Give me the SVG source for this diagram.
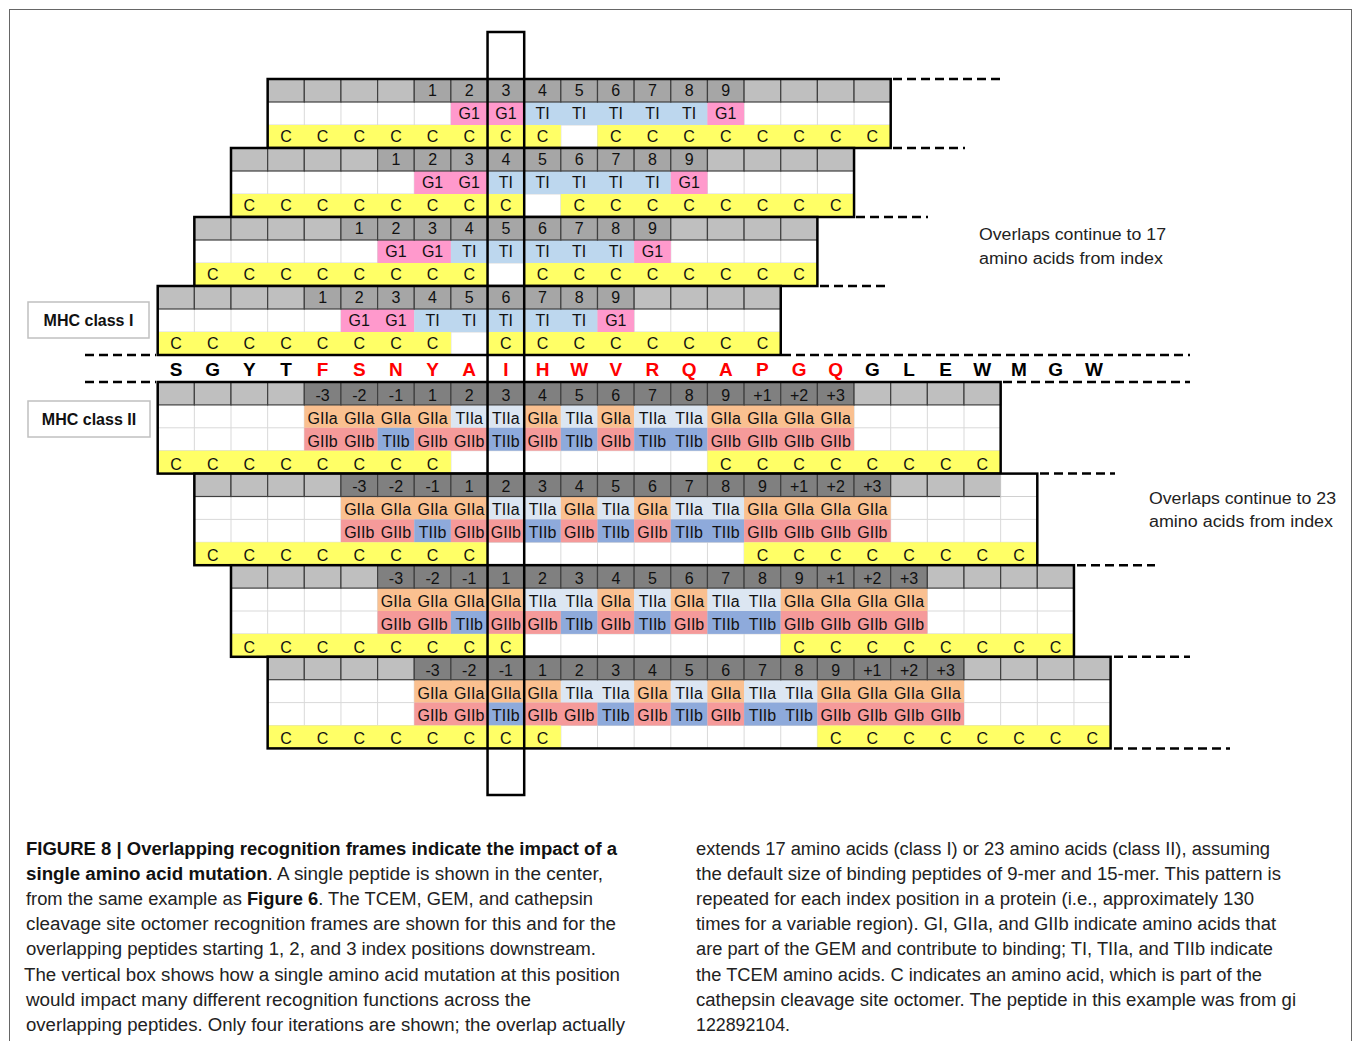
<svg xmlns="http://www.w3.org/2000/svg" width="1354" height="1041" viewBox="0 0 1354 1041">
<style>
.hl{fill:#bfbfbf;stroke:#404040;stroke-width:1.2}
.hd1{fill:#a6a6a6;stroke:#404040;stroke-width:1.2}
.hd2{fill:#808080;stroke:#404040;stroke-width:1.2}
.hw{fill:#fff;stroke:#d0d0d0;stroke-width:1}
.wb{fill:#fff}
.gl{stroke:#d9d9d9;stroke-width:1;fill:none}
.g1{fill:#ff99cc}.ti{fill:#bdd7ee}.y{fill:#ffff66}
.ga{fill:#fac090}.ta{fill:#dce6f2}.gb{fill:#f59a9a}.tb{fill:#8eaadb}
.bd{fill:none;stroke:#000;stroke-width:2.5}
.c text{font-family:"Liberation Sans",Arial,sans-serif;font-size:16px;text-anchor:middle;fill:#111}
.dash{stroke:#000;stroke-width:2.5;stroke-dasharray:9 5;fill:none}
.seq text{font-family:"Liberation Sans",Arial,sans-serif;font-size:19px;font-weight:bold;text-anchor:middle}
.r{fill:#ff0000}.k{fill:#000}
.lbl{fill:#fff;stroke:#c0c0c0;stroke-width:1.5}
.lbt{font-family:"Liberation Sans",Arial,sans-serif;font-size:16px;font-weight:bold;text-anchor:middle;fill:#111}
.note{font-family:"Liberation Sans",Arial,sans-serif;font-size:16px;fill:#222}
.cap{font-family:"Liberation Sans",Arial,sans-serif;font-size:18px;fill:#222}
.b{font-weight:bold;fill:#111}
</style>
<rect x="0" y="0" width="1354" height="1041" fill="#fff"/>
<rect x="9.5" y="9.5" width="1342" height="1040" fill="none" stroke="#666" stroke-width="1"/>

<!-- MHC class I frames -->
<g id="mhc1-frame1" class="c" transform="translate(267.65,79)">
<rect class="wb" x="0" y="23" width="623.05" height="46"/>
<path class="gl" d="M36.65 23V69M73.3 23V69M109.95 23V69M146.6 23V69M183.25 23V69M219.9 23V69M256.55 23V69M293.2 23V69M329.85 23V69M366.5 23V69M403.15 23V69M439.8 23V69M476.45 23V69M513.1 23V69M549.75 23V69M586.4 23V69M0 46H623.05"/>
<rect class="g1" x="183.25" y="23" width="73.3" height="23"/><rect class="ti" x="256.55" y="23" width="183.25" height="23"/><rect class="g1" x="439.8" y="23" width="36.65" height="23"/>
<rect class="y" x="0" y="46" width="293.2" height="23"/><rect class="y" x="329.85" y="46" width="293.2" height="23"/>
<rect class="hl" x="0" y="0" width="36.65" height="23"/><rect class="hl" x="36.65" y="0" width="36.65" height="23"/><rect class="hl" x="73.3" y="0" width="36.65" height="23"/><rect class="hl" x="109.95" y="0" width="36.65" height="23"/>
<rect class="hd1" x="146.6" y="0" width="36.65" height="23"/><rect class="hd1" x="183.25" y="0" width="36.65" height="23"/><rect class="hd1" x="219.9" y="0" width="36.65" height="23"/><rect class="hd1" x="256.55" y="0" width="36.65" height="23"/><rect class="hd1" x="293.2" y="0" width="36.65" height="23"/><rect class="hd1" x="329.85" y="0" width="36.65" height="23"/><rect class="hd1" x="366.5" y="0" width="36.65" height="23"/><rect class="hd1" x="403.15" y="0" width="36.65" height="23"/><rect class="hd1" x="439.8" y="0" width="36.65" height="23"/>
<rect class="hl" x="476.45" y="0" width="36.65" height="23"/><rect class="hl" x="513.1" y="0" width="36.65" height="23"/><rect class="hl" x="549.75" y="0" width="36.65" height="23"/><rect class="hl" x="586.4" y="0" width="36.65" height="23"/>
<text x="164.93" y="17">1</text><text x="201.58" y="17">2</text><text x="238.23" y="17">3</text><text x="274.88" y="17">4</text><text x="311.53" y="17">5</text><text x="348.18" y="17">6</text><text x="384.83" y="17">7</text><text x="421.48" y="17">8</text><text x="458.13" y="17">9</text>
<text x="201.58" y="40">G1</text><text x="238.23" y="40">G1</text><text x="274.88" y="40">TI</text><text x="311.53" y="40">TI</text><text x="348.18" y="40">TI</text><text x="384.83" y="40">TI</text><text x="421.48" y="40">TI</text><text x="458.13" y="40">G1</text>
<text x="18.33" y="63">C</text><text x="54.98" y="63">C</text><text x="91.63" y="63">C</text><text x="128.28" y="63">C</text><text x="164.93" y="63">C</text><text x="201.58" y="63">C</text><text x="238.23" y="63">C</text><text x="274.88" y="63">C</text><text x="348.18" y="63">C</text><text x="384.83" y="63">C</text><text x="421.48" y="63">C</text><text x="458.13" y="63">C</text><text x="494.78" y="63">C</text><text x="531.43" y="63">C</text><text x="568.08" y="63">C</text><text x="604.73" y="63">C</text>
<rect class="bd" x="0" y="0" width="623.05" height="69"/>
</g>

<g id="mhc1-frame2" class="c" transform="translate(231,148)">
<rect class="wb" x="0" y="23" width="623.05" height="46"/>
<path class="gl" d="M36.65 23V69M73.3 23V69M109.95 23V69M146.6 23V69M183.25 23V69M219.9 23V69M256.55 23V69M293.2 23V69M329.85 23V69M366.5 23V69M403.15 23V69M439.8 23V69M476.45 23V69M513.1 23V69M549.75 23V69M586.4 23V69M0 46H623.05"/>
<rect class="g1" x="183.25" y="23" width="73.3" height="23"/><rect class="ti" x="256.55" y="23" width="183.25" height="23"/><rect class="g1" x="439.8" y="23" width="36.65" height="23"/>
<rect class="y" x="0" y="46" width="293.2" height="23"/><rect class="y" x="329.85" y="46" width="293.2" height="23"/>
<rect class="hl" x="0" y="0" width="36.65" height="23"/><rect class="hl" x="36.65" y="0" width="36.65" height="23"/><rect class="hl" x="73.3" y="0" width="36.65" height="23"/><rect class="hl" x="109.95" y="0" width="36.65" height="23"/>
<rect class="hd1" x="146.6" y="0" width="36.65" height="23"/><rect class="hd1" x="183.25" y="0" width="36.65" height="23"/><rect class="hd1" x="219.9" y="0" width="36.65" height="23"/><rect class="hd1" x="256.55" y="0" width="36.65" height="23"/><rect class="hd1" x="293.2" y="0" width="36.65" height="23"/><rect class="hd1" x="329.85" y="0" width="36.65" height="23"/><rect class="hd1" x="366.5" y="0" width="36.65" height="23"/><rect class="hd1" x="403.15" y="0" width="36.65" height="23"/><rect class="hd1" x="439.8" y="0" width="36.65" height="23"/>
<rect class="hl" x="476.45" y="0" width="36.65" height="23"/><rect class="hl" x="513.1" y="0" width="36.65" height="23"/><rect class="hl" x="549.75" y="0" width="36.65" height="23"/><rect class="hl" x="586.4" y="0" width="36.65" height="23"/>
<text x="164.93" y="17">1</text><text x="201.58" y="17">2</text><text x="238.23" y="17">3</text><text x="274.88" y="17">4</text><text x="311.53" y="17">5</text><text x="348.18" y="17">6</text><text x="384.83" y="17">7</text><text x="421.48" y="17">8</text><text x="458.13" y="17">9</text>
<text x="201.58" y="40">G1</text><text x="238.23" y="40">G1</text><text x="274.88" y="40">TI</text><text x="311.53" y="40">TI</text><text x="348.18" y="40">TI</text><text x="384.83" y="40">TI</text><text x="421.48" y="40">TI</text><text x="458.13" y="40">G1</text>
<text x="18.33" y="63">C</text><text x="54.98" y="63">C</text><text x="91.63" y="63">C</text><text x="128.28" y="63">C</text><text x="164.93" y="63">C</text><text x="201.58" y="63">C</text><text x="238.23" y="63">C</text><text x="274.88" y="63">C</text><text x="348.18" y="63">C</text><text x="384.83" y="63">C</text><text x="421.48" y="63">C</text><text x="458.13" y="63">C</text><text x="494.78" y="63">C</text><text x="531.43" y="63">C</text><text x="568.08" y="63">C</text><text x="604.73" y="63">C</text>
<rect class="bd" x="0" y="0" width="623.05" height="69"/>
</g>

<g id="mhc1-frame3" class="c" transform="translate(194.35,217)">
<rect class="wb" x="0" y="23" width="623.05" height="46"/>
<path class="gl" d="M36.65 23V69M73.3 23V69M109.95 23V69M146.6 23V69M183.25 23V69M219.9 23V69M256.55 23V69M293.2 23V69M329.85 23V69M366.5 23V69M403.15 23V69M439.8 23V69M476.45 23V69M513.1 23V69M549.75 23V69M586.4 23V69M0 46H623.05"/>
<rect class="g1" x="183.25" y="23" width="73.3" height="23"/><rect class="ti" x="256.55" y="23" width="183.25" height="23"/><rect class="g1" x="439.8" y="23" width="36.65" height="23"/>
<rect class="y" x="0" y="46" width="293.2" height="23"/><rect class="y" x="329.85" y="46" width="293.2" height="23"/>
<rect class="hl" x="0" y="0" width="36.65" height="23"/><rect class="hl" x="36.65" y="0" width="36.65" height="23"/><rect class="hl" x="73.3" y="0" width="36.65" height="23"/><rect class="hl" x="109.95" y="0" width="36.65" height="23"/>
<rect class="hd1" x="146.6" y="0" width="36.65" height="23"/><rect class="hd1" x="183.25" y="0" width="36.65" height="23"/><rect class="hd1" x="219.9" y="0" width="36.65" height="23"/><rect class="hd1" x="256.55" y="0" width="36.65" height="23"/><rect class="hd1" x="293.2" y="0" width="36.65" height="23"/><rect class="hd1" x="329.85" y="0" width="36.65" height="23"/><rect class="hd1" x="366.5" y="0" width="36.65" height="23"/><rect class="hd1" x="403.15" y="0" width="36.65" height="23"/><rect class="hd1" x="439.8" y="0" width="36.65" height="23"/>
<rect class="hl" x="476.45" y="0" width="36.65" height="23"/><rect class="hl" x="513.1" y="0" width="36.65" height="23"/><rect class="hl" x="549.75" y="0" width="36.65" height="23"/><rect class="hl" x="586.4" y="0" width="36.65" height="23"/>
<text x="164.93" y="17">1</text><text x="201.58" y="17">2</text><text x="238.23" y="17">3</text><text x="274.88" y="17">4</text><text x="311.53" y="17">5</text><text x="348.18" y="17">6</text><text x="384.83" y="17">7</text><text x="421.48" y="17">8</text><text x="458.13" y="17">9</text>
<text x="201.58" y="40">G1</text><text x="238.23" y="40">G1</text><text x="274.88" y="40">TI</text><text x="311.53" y="40">TI</text><text x="348.18" y="40">TI</text><text x="384.83" y="40">TI</text><text x="421.48" y="40">TI</text><text x="458.13" y="40">G1</text>
<text x="18.33" y="63">C</text><text x="54.98" y="63">C</text><text x="91.63" y="63">C</text><text x="128.28" y="63">C</text><text x="164.93" y="63">C</text><text x="201.58" y="63">C</text><text x="238.23" y="63">C</text><text x="274.88" y="63">C</text><text x="348.18" y="63">C</text><text x="384.83" y="63">C</text><text x="421.48" y="63">C</text><text x="458.13" y="63">C</text><text x="494.78" y="63">C</text><text x="531.43" y="63">C</text><text x="568.08" y="63">C</text><text x="604.73" y="63">C</text>
<rect class="bd" x="0" y="0" width="623.05" height="69"/>
</g>

<g id="mhc1-frame4" class="c" transform="translate(157.7,286)">
<rect class="wb" x="0" y="23" width="623.05" height="46"/>
<path class="gl" d="M36.65 23V69M73.3 23V69M109.95 23V69M146.6 23V69M183.25 23V69M219.9 23V69M256.55 23V69M293.2 23V69M329.85 23V69M366.5 23V69M403.15 23V69M439.8 23V69M476.45 23V69M513.1 23V69M549.75 23V69M586.4 23V69M0 46H623.05"/>
<rect class="g1" x="183.25" y="23" width="73.3" height="23"/><rect class="ti" x="256.55" y="23" width="183.25" height="23"/><rect class="g1" x="439.8" y="23" width="36.65" height="23"/>
<rect class="y" x="0" y="46" width="293.2" height="23"/><rect class="y" x="329.85" y="46" width="293.2" height="23"/>
<rect class="hl" x="0" y="0" width="36.65" height="23"/><rect class="hl" x="36.65" y="0" width="36.65" height="23"/><rect class="hl" x="73.3" y="0" width="36.65" height="23"/><rect class="hl" x="109.95" y="0" width="36.65" height="23"/>
<rect class="hd1" x="146.6" y="0" width="36.65" height="23"/><rect class="hd1" x="183.25" y="0" width="36.65" height="23"/><rect class="hd1" x="219.9" y="0" width="36.65" height="23"/><rect class="hd1" x="256.55" y="0" width="36.65" height="23"/><rect class="hd1" x="293.2" y="0" width="36.65" height="23"/><rect class="hd1" x="329.85" y="0" width="36.65" height="23"/><rect class="hd1" x="366.5" y="0" width="36.65" height="23"/><rect class="hd1" x="403.15" y="0" width="36.65" height="23"/><rect class="hd1" x="439.8" y="0" width="36.65" height="23"/>
<rect class="hl" x="476.45" y="0" width="36.65" height="23"/><rect class="hl" x="513.1" y="0" width="36.65" height="23"/><rect class="hl" x="549.75" y="0" width="36.65" height="23"/><rect class="hl" x="586.4" y="0" width="36.65" height="23"/>
<text x="164.93" y="17">1</text><text x="201.58" y="17">2</text><text x="238.23" y="17">3</text><text x="274.88" y="17">4</text><text x="311.53" y="17">5</text><text x="348.18" y="17">6</text><text x="384.83" y="17">7</text><text x="421.48" y="17">8</text><text x="458.13" y="17">9</text>
<text x="201.58" y="40">G1</text><text x="238.23" y="40">G1</text><text x="274.88" y="40">TI</text><text x="311.53" y="40">TI</text><text x="348.18" y="40">TI</text><text x="384.83" y="40">TI</text><text x="421.48" y="40">TI</text><text x="458.13" y="40">G1</text>
<text x="18.33" y="63">C</text><text x="54.98" y="63">C</text><text x="91.63" y="63">C</text><text x="128.28" y="63">C</text><text x="164.93" y="63">C</text><text x="201.58" y="63">C</text><text x="238.23" y="63">C</text><text x="274.88" y="63">C</text><text x="348.18" y="63">C</text><text x="384.83" y="63">C</text><text x="421.48" y="63">C</text><text x="458.13" y="63">C</text><text x="494.78" y="63">C</text><text x="531.43" y="63">C</text><text x="568.08" y="63">C</text><text x="604.73" y="63">C</text>
<rect class="bd" x="0" y="0" width="623.05" height="69"/>
</g>

<!-- Sequence -->
<g id="sequence" class="seq">
<text class="k" x="176.03" y="376">S</text><text class="k" x="212.68" y="376">G</text><text class="k" x="249.33" y="376">Y</text><text class="k" x="285.98" y="376">T</text>
<text class="r" x="322.63" y="376">F</text><text class="r" x="359.28" y="376">S</text><text class="r" x="395.93" y="376">N</text><text class="r" x="432.58" y="376">Y</text><text class="r" x="469.23" y="376">A</text><text class="r" x="505.88" y="376">I</text><text class="r" x="542.53" y="376">H</text><text class="r" x="579.18" y="376">W</text><text class="r" x="615.83" y="376">V</text><text class="r" x="652.48" y="376">R</text><text class="r" x="689.13" y="376">Q</text><text class="r" x="725.78" y="376">A</text><text class="r" x="762.43" y="376">P</text><text class="r" x="799.08" y="376">G</text><text class="r" x="835.73" y="376">Q</text>
<text class="k" x="872.38" y="376">G</text><text class="k" x="909.03" y="376">L</text><text class="k" x="945.68" y="376">E</text><text class="k" x="982.33" y="376">W</text><text class="k" x="1018.98" y="376">M</text><text class="k" x="1055.63" y="376">G</text><text class="k" x="1094" y="376">W</text>
</g>

<!-- MHC class II frames -->
<g id="mhc2-frame1" class="c" transform="translate(157.7,382)">
<rect class="wb" x="0" y="22.9" width="842.95" height="68.7"/>
<path class="gl" d="M36.65 22.9V91.6M73.3 22.9V91.6M109.95 22.9V91.6M146.6 22.9V91.6M183.25 22.9V91.6M219.9 22.9V91.6M256.55 22.9V91.6M293.2 22.9V91.6M329.85 22.9V91.6M366.5 22.9V91.6M403.15 22.9V91.6M439.8 22.9V91.6M476.45 22.9V91.6M513.1 22.9V91.6M549.75 22.9V91.6M586.4 22.9V91.6M623.05 22.9V91.6M659.7 22.9V91.6M696.35 22.9V91.6M733 22.9V91.6M769.65 22.9V91.6M806.3 22.9V91.6M0 45.8H842.95M0 68.7H842.95"/>
<rect class="ga" x="146.6" y="22.9" width="146.6" height="22.9"/><rect class="ta" x="293.2" y="22.9" width="73.3" height="22.9"/><rect class="ga" x="366.5" y="22.9" width="36.65" height="22.9"/><rect class="ta" x="403.15" y="22.9" width="36.65" height="22.9"/><rect class="ga" x="439.8" y="22.9" width="36.65" height="22.9"/><rect class="ta" x="476.45" y="22.9" width="73.3" height="22.9"/><rect class="ga" x="549.75" y="22.9" width="146.6" height="22.9"/>
<rect class="gb" x="146.6" y="45.8" width="73.3" height="22.9"/><rect class="tb" x="219.9" y="45.8" width="36.65" height="22.9"/><rect class="gb" x="256.55" y="45.8" width="73.3" height="22.9"/><rect class="tb" x="329.85" y="45.8" width="36.65" height="22.9"/><rect class="gb" x="366.5" y="45.8" width="36.65" height="22.9"/><rect class="tb" x="403.15" y="45.8" width="36.65" height="22.9"/><rect class="gb" x="439.8" y="45.8" width="36.65" height="22.9"/><rect class="tb" x="476.45" y="45.8" width="73.3" height="22.9"/><rect class="gb" x="549.75" y="45.8" width="146.6" height="22.9"/>
<rect class="y" x="0" y="68.7" width="293.2" height="22.9"/><rect class="y" x="549.75" y="68.7" width="293.2" height="22.9"/>
<rect class="hl" x="0" y="0" width="36.65" height="22.9"/><rect class="hl" x="36.65" y="0" width="36.65" height="22.9"/><rect class="hl" x="73.3" y="0" width="36.65" height="22.9"/><rect class="hl" x="109.95" y="0" width="36.65" height="22.9"/>
<rect class="hd2" x="146.6" y="0" width="36.65" height="22.9"/><rect class="hd2" x="183.25" y="0" width="36.65" height="22.9"/><rect class="hd2" x="219.9" y="0" width="36.65" height="22.9"/><rect class="hd2" x="256.55" y="0" width="36.65" height="22.9"/><rect class="hd2" x="293.2" y="0" width="36.65" height="22.9"/><rect class="hd2" x="329.85" y="0" width="36.65" height="22.9"/><rect class="hd2" x="366.5" y="0" width="36.65" height="22.9"/><rect class="hd2" x="403.15" y="0" width="36.65" height="22.9"/><rect class="hd2" x="439.8" y="0" width="36.65" height="22.9"/><rect class="hd2" x="476.45" y="0" width="36.65" height="22.9"/><rect class="hd2" x="513.1" y="0" width="36.65" height="22.9"/><rect class="hd2" x="549.75" y="0" width="36.65" height="22.9"/><rect class="hd2" x="586.4" y="0" width="36.65" height="22.9"/><rect class="hd2" x="623.05" y="0" width="36.65" height="22.9"/><rect class="hd2" x="659.7" y="0" width="36.65" height="22.9"/>
<rect class="hl" x="696.35" y="0" width="36.65" height="22.9"/><rect class="hl" x="733" y="0" width="36.65" height="22.9"/><rect class="hl" x="769.65" y="0" width="36.65" height="22.9"/><rect class="hl" x="806.3" y="0" width="36.65" height="22.9"/>
<text x="164.93" y="18.8">-3</text><text x="201.58" y="18.8">-2</text><text x="238.23" y="18.8">-1</text><text x="274.88" y="18.8">1</text><text x="311.53" y="18.8">2</text><text x="348.18" y="18.8">3</text><text x="384.83" y="18.8">4</text><text x="421.48" y="18.8">5</text><text x="458.13" y="18.8">6</text><text x="494.78" y="18.8">7</text><text x="531.43" y="18.8">8</text><text x="568.08" y="18.8">9</text><text x="604.73" y="18.8">+1</text><text x="641.38" y="18.8">+2</text><text x="678.03" y="18.8">+3</text>
<text x="164.93" y="41.8">GIIa</text><text x="201.58" y="41.8">GIIa</text><text x="238.23" y="41.8">GIIa</text><text x="274.88" y="41.8">GIIa</text><text x="311.53" y="41.8">TIIa</text><text x="348.18" y="41.8">TIIa</text><text x="384.83" y="41.8">GIIa</text><text x="421.48" y="41.8">TIIa</text><text x="458.13" y="41.8">GIIa</text><text x="494.78" y="41.8">TIIa</text><text x="531.43" y="41.8">TIIa</text><text x="568.08" y="41.8">GIIa</text><text x="604.73" y="41.8">GIIa</text><text x="641.38" y="41.8">GIIa</text><text x="678.03" y="41.8">GIIa</text>
<text x="164.93" y="64.7">GIIb</text><text x="201.58" y="64.7">GIIb</text><text x="238.23" y="64.7">TIIb</text><text x="274.88" y="64.7">GIIb</text><text x="311.53" y="64.7">GIIb</text><text x="348.18" y="64.7">TIIb</text><text x="384.83" y="64.7">GIIb</text><text x="421.48" y="64.7">TIIb</text><text x="458.13" y="64.7">GIIb</text><text x="494.78" y="64.7">TIIb</text><text x="531.43" y="64.7">TIIb</text><text x="568.08" y="64.7">GIIb</text><text x="604.73" y="64.7">GIIb</text><text x="641.38" y="64.7">GIIb</text><text x="678.03" y="64.7">GIIb</text>
<text x="18.33" y="87.6">C</text><text x="54.98" y="87.6">C</text><text x="91.63" y="87.6">C</text><text x="128.28" y="87.6">C</text><text x="164.93" y="87.6">C</text><text x="201.58" y="87.6">C</text><text x="238.23" y="87.6">C</text><text x="274.88" y="87.6">C</text><text x="568.08" y="87.6">C</text><text x="604.73" y="87.6">C</text><text x="641.38" y="87.6">C</text><text x="678.03" y="87.6">C</text><text x="714.68" y="87.6">C</text><text x="751.33" y="87.6">C</text><text x="787.98" y="87.6">C</text><text x="824.63" y="87.6">C</text>
<rect class="bd" x="0" y="0" width="842.95" height="91.6"/>
</g>

<g id="mhc2-frame2" class="c" transform="translate(194.35,473.6)">
<rect class="wb" x="0" y="22.9" width="842.95" height="68.7"/>
<path class="gl" d="M36.65 22.9V91.6M73.3 22.9V91.6M109.95 22.9V91.6M146.6 22.9V91.6M183.25 22.9V91.6M219.9 22.9V91.6M256.55 22.9V91.6M293.2 22.9V91.6M329.85 22.9V91.6M366.5 22.9V91.6M403.15 22.9V91.6M439.8 22.9V91.6M476.45 22.9V91.6M513.1 22.9V91.6M549.75 22.9V91.6M586.4 22.9V91.6M623.05 22.9V91.6M659.7 22.9V91.6M696.35 22.9V91.6M733 22.9V91.6M769.65 22.9V91.6M806.3 22.9V91.6M0 45.8H842.95M0 68.7H842.95"/>
<rect class="ga" x="146.6" y="22.9" width="146.6" height="22.9"/><rect class="ta" x="293.2" y="22.9" width="73.3" height="22.9"/><rect class="ga" x="366.5" y="22.9" width="36.65" height="22.9"/><rect class="ta" x="403.15" y="22.9" width="36.65" height="22.9"/><rect class="ga" x="439.8" y="22.9" width="36.65" height="22.9"/><rect class="ta" x="476.45" y="22.9" width="73.3" height="22.9"/><rect class="ga" x="549.75" y="22.9" width="146.6" height="22.9"/>
<rect class="gb" x="146.6" y="45.8" width="73.3" height="22.9"/><rect class="tb" x="219.9" y="45.8" width="36.65" height="22.9"/><rect class="gb" x="256.55" y="45.8" width="73.3" height="22.9"/><rect class="tb" x="329.85" y="45.8" width="36.65" height="22.9"/><rect class="gb" x="366.5" y="45.8" width="36.65" height="22.9"/><rect class="tb" x="403.15" y="45.8" width="36.65" height="22.9"/><rect class="gb" x="439.8" y="45.8" width="36.65" height="22.9"/><rect class="tb" x="476.45" y="45.8" width="73.3" height="22.9"/><rect class="gb" x="549.75" y="45.8" width="146.6" height="22.9"/>
<rect class="y" x="0" y="68.7" width="293.2" height="22.9"/><rect class="y" x="549.75" y="68.7" width="293.2" height="22.9"/>
<rect class="hl" x="0" y="0" width="36.65" height="22.9"/><rect class="hl" x="36.65" y="0" width="36.65" height="22.9"/><rect class="hl" x="73.3" y="0" width="36.65" height="22.9"/><rect class="hl" x="109.95" y="0" width="36.65" height="22.9"/>
<rect class="hd2" x="146.6" y="0" width="36.65" height="22.9"/><rect class="hd2" x="183.25" y="0" width="36.65" height="22.9"/><rect class="hd2" x="219.9" y="0" width="36.65" height="22.9"/><rect class="hd2" x="256.55" y="0" width="36.65" height="22.9"/><rect class="hd2" x="293.2" y="0" width="36.65" height="22.9"/><rect class="hd2" x="329.85" y="0" width="36.65" height="22.9"/><rect class="hd2" x="366.5" y="0" width="36.65" height="22.9"/><rect class="hd2" x="403.15" y="0" width="36.65" height="22.9"/><rect class="hd2" x="439.8" y="0" width="36.65" height="22.9"/><rect class="hd2" x="476.45" y="0" width="36.65" height="22.9"/><rect class="hd2" x="513.1" y="0" width="36.65" height="22.9"/><rect class="hd2" x="549.75" y="0" width="36.65" height="22.9"/><rect class="hd2" x="586.4" y="0" width="36.65" height="22.9"/><rect class="hd2" x="623.05" y="0" width="36.65" height="22.9"/><rect class="hd2" x="659.7" y="0" width="36.65" height="22.9"/>
<rect class="hl" x="696.35" y="0" width="36.65" height="22.9"/><rect class="hl" x="733" y="0" width="36.65" height="22.9"/><rect class="hl" x="769.65" y="0" width="36.65" height="22.9"/><rect class="hw" x="806.3" y="0" width="36.65" height="22.9"/>
<text x="164.93" y="18.8">-3</text><text x="201.58" y="18.8">-2</text><text x="238.23" y="18.8">-1</text><text x="274.88" y="18.8">1</text><text x="311.53" y="18.8">2</text><text x="348.18" y="18.8">3</text><text x="384.83" y="18.8">4</text><text x="421.48" y="18.8">5</text><text x="458.13" y="18.8">6</text><text x="494.78" y="18.8">7</text><text x="531.43" y="18.8">8</text><text x="568.08" y="18.8">9</text><text x="604.73" y="18.8">+1</text><text x="641.38" y="18.8">+2</text><text x="678.03" y="18.8">+3</text>
<text x="164.93" y="41.8">GIIa</text><text x="201.58" y="41.8">GIIa</text><text x="238.23" y="41.8">GIIa</text><text x="274.88" y="41.8">GIIa</text><text x="311.53" y="41.8">TIIa</text><text x="348.18" y="41.8">TIIa</text><text x="384.83" y="41.8">GIIa</text><text x="421.48" y="41.8">TIIa</text><text x="458.13" y="41.8">GIIa</text><text x="494.78" y="41.8">TIIa</text><text x="531.43" y="41.8">TIIa</text><text x="568.08" y="41.8">GIIa</text><text x="604.73" y="41.8">GIIa</text><text x="641.38" y="41.8">GIIa</text><text x="678.03" y="41.8">GIIa</text>
<text x="164.93" y="64.7">GIIb</text><text x="201.58" y="64.7">GIIb</text><text x="238.23" y="64.7">TIIb</text><text x="274.88" y="64.7">GIIb</text><text x="311.53" y="64.7">GIIb</text><text x="348.18" y="64.7">TIIb</text><text x="384.83" y="64.7">GIIb</text><text x="421.48" y="64.7">TIIb</text><text x="458.13" y="64.7">GIIb</text><text x="494.78" y="64.7">TIIb</text><text x="531.43" y="64.7">TIIb</text><text x="568.08" y="64.7">GIIb</text><text x="604.73" y="64.7">GIIb</text><text x="641.38" y="64.7">GIIb</text><text x="678.03" y="64.7">GIIb</text>
<text x="18.33" y="87.6">C</text><text x="54.98" y="87.6">C</text><text x="91.63" y="87.6">C</text><text x="128.28" y="87.6">C</text><text x="164.93" y="87.6">C</text><text x="201.58" y="87.6">C</text><text x="238.23" y="87.6">C</text><text x="274.88" y="87.6">C</text><text x="568.08" y="87.6">C</text><text x="604.73" y="87.6">C</text><text x="641.38" y="87.6">C</text><text x="678.03" y="87.6">C</text><text x="714.68" y="87.6">C</text><text x="751.33" y="87.6">C</text><text x="787.98" y="87.6">C</text><text x="824.63" y="87.6">C</text>
<rect class="bd" x="0" y="0" width="842.95" height="91.6"/>
</g>

<g id="mhc2-frame3" class="c" transform="translate(231,565.2)">
<rect class="wb" x="0" y="22.9" width="842.95" height="68.7"/>
<path class="gl" d="M36.65 22.9V91.6M73.3 22.9V91.6M109.95 22.9V91.6M146.6 22.9V91.6M183.25 22.9V91.6M219.9 22.9V91.6M256.55 22.9V91.6M293.2 22.9V91.6M329.85 22.9V91.6M366.5 22.9V91.6M403.15 22.9V91.6M439.8 22.9V91.6M476.45 22.9V91.6M513.1 22.9V91.6M549.75 22.9V91.6M586.4 22.9V91.6M623.05 22.9V91.6M659.7 22.9V91.6M696.35 22.9V91.6M733 22.9V91.6M769.65 22.9V91.6M806.3 22.9V91.6M0 45.8H842.95M0 68.7H842.95"/>
<rect class="ga" x="146.6" y="22.9" width="146.6" height="22.9"/><rect class="ta" x="293.2" y="22.9" width="73.3" height="22.9"/><rect class="ga" x="366.5" y="22.9" width="36.65" height="22.9"/><rect class="ta" x="403.15" y="22.9" width="36.65" height="22.9"/><rect class="ga" x="439.8" y="22.9" width="36.65" height="22.9"/><rect class="ta" x="476.45" y="22.9" width="73.3" height="22.9"/><rect class="ga" x="549.75" y="22.9" width="146.6" height="22.9"/>
<rect class="gb" x="146.6" y="45.8" width="73.3" height="22.9"/><rect class="tb" x="219.9" y="45.8" width="36.65" height="22.9"/><rect class="gb" x="256.55" y="45.8" width="73.3" height="22.9"/><rect class="tb" x="329.85" y="45.8" width="36.65" height="22.9"/><rect class="gb" x="366.5" y="45.8" width="36.65" height="22.9"/><rect class="tb" x="403.15" y="45.8" width="36.65" height="22.9"/><rect class="gb" x="439.8" y="45.8" width="36.65" height="22.9"/><rect class="tb" x="476.45" y="45.8" width="73.3" height="22.9"/><rect class="gb" x="549.75" y="45.8" width="146.6" height="22.9"/>
<rect class="y" x="0" y="68.7" width="293.2" height="22.9"/><rect class="y" x="549.75" y="68.7" width="293.2" height="22.9"/>
<rect class="hl" x="0" y="0" width="36.65" height="22.9"/><rect class="hl" x="36.65" y="0" width="36.65" height="22.9"/><rect class="hl" x="73.3" y="0" width="36.65" height="22.9"/><rect class="hl" x="109.95" y="0" width="36.65" height="22.9"/>
<rect class="hd2" x="146.6" y="0" width="36.65" height="22.9"/><rect class="hd2" x="183.25" y="0" width="36.65" height="22.9"/><rect class="hd2" x="219.9" y="0" width="36.65" height="22.9"/><rect class="hd2" x="256.55" y="0" width="36.65" height="22.9"/><rect class="hd2" x="293.2" y="0" width="36.65" height="22.9"/><rect class="hd2" x="329.85" y="0" width="36.65" height="22.9"/><rect class="hd2" x="366.5" y="0" width="36.65" height="22.9"/><rect class="hd2" x="403.15" y="0" width="36.65" height="22.9"/><rect class="hd2" x="439.8" y="0" width="36.65" height="22.9"/><rect class="hd2" x="476.45" y="0" width="36.65" height="22.9"/><rect class="hd2" x="513.1" y="0" width="36.65" height="22.9"/><rect class="hd2" x="549.75" y="0" width="36.65" height="22.9"/><rect class="hd2" x="586.4" y="0" width="36.65" height="22.9"/><rect class="hd2" x="623.05" y="0" width="36.65" height="22.9"/><rect class="hd2" x="659.7" y="0" width="36.65" height="22.9"/>
<rect class="hl" x="696.35" y="0" width="36.65" height="22.9"/><rect class="hl" x="733" y="0" width="36.65" height="22.9"/><rect class="hl" x="769.65" y="0" width="36.65" height="22.9"/><rect class="hl" x="806.3" y="0" width="36.65" height="22.9"/>
<text x="164.93" y="18.8">-3</text><text x="201.58" y="18.8">-2</text><text x="238.23" y="18.8">-1</text><text x="274.88" y="18.8">1</text><text x="311.53" y="18.8">2</text><text x="348.18" y="18.8">3</text><text x="384.83" y="18.8">4</text><text x="421.48" y="18.8">5</text><text x="458.13" y="18.8">6</text><text x="494.78" y="18.8">7</text><text x="531.43" y="18.8">8</text><text x="568.08" y="18.8">9</text><text x="604.73" y="18.8">+1</text><text x="641.38" y="18.8">+2</text><text x="678.03" y="18.8">+3</text>
<text x="164.93" y="41.8">GIIa</text><text x="201.58" y="41.8">GIIa</text><text x="238.23" y="41.8">GIIa</text><text x="274.88" y="41.8">GIIa</text><text x="311.53" y="41.8">TIIa</text><text x="348.18" y="41.8">TIIa</text><text x="384.83" y="41.8">GIIa</text><text x="421.48" y="41.8">TIIa</text><text x="458.13" y="41.8">GIIa</text><text x="494.78" y="41.8">TIIa</text><text x="531.43" y="41.8">TIIa</text><text x="568.08" y="41.8">GIIa</text><text x="604.73" y="41.8">GIIa</text><text x="641.38" y="41.8">GIIa</text><text x="678.03" y="41.8">GIIa</text>
<text x="164.93" y="64.7">GIIb</text><text x="201.58" y="64.7">GIIb</text><text x="238.23" y="64.7">TIIb</text><text x="274.88" y="64.7">GIIb</text><text x="311.53" y="64.7">GIIb</text><text x="348.18" y="64.7">TIIb</text><text x="384.83" y="64.7">GIIb</text><text x="421.48" y="64.7">TIIb</text><text x="458.13" y="64.7">GIIb</text><text x="494.78" y="64.7">TIIb</text><text x="531.43" y="64.7">TIIb</text><text x="568.08" y="64.7">GIIb</text><text x="604.73" y="64.7">GIIb</text><text x="641.38" y="64.7">GIIb</text><text x="678.03" y="64.7">GIIb</text>
<text x="18.33" y="87.6">C</text><text x="54.98" y="87.6">C</text><text x="91.63" y="87.6">C</text><text x="128.28" y="87.6">C</text><text x="164.93" y="87.6">C</text><text x="201.58" y="87.6">C</text><text x="238.23" y="87.6">C</text><text x="274.88" y="87.6">C</text><text x="568.08" y="87.6">C</text><text x="604.73" y="87.6">C</text><text x="641.38" y="87.6">C</text><text x="678.03" y="87.6">C</text><text x="714.68" y="87.6">C</text><text x="751.33" y="87.6">C</text><text x="787.98" y="87.6">C</text><text x="824.63" y="87.6">C</text>
<rect class="bd" x="0" y="0" width="842.95" height="91.6"/>
</g>

<g id="mhc2-frame4" class="c" transform="translate(267.65,656.8)">
<rect class="wb" x="0" y="22.9" width="842.95" height="68.7"/>
<path class="gl" d="M36.65 22.9V91.6M73.3 22.9V91.6M109.95 22.9V91.6M146.6 22.9V91.6M183.25 22.9V91.6M219.9 22.9V91.6M256.55 22.9V91.6M293.2 22.9V91.6M329.85 22.9V91.6M366.5 22.9V91.6M403.15 22.9V91.6M439.8 22.9V91.6M476.45 22.9V91.6M513.1 22.9V91.6M549.75 22.9V91.6M586.4 22.9V91.6M623.05 22.9V91.6M659.7 22.9V91.6M696.35 22.9V91.6M733 22.9V91.6M769.65 22.9V91.6M806.3 22.9V91.6M0 45.8H842.95M0 68.7H842.95"/>
<rect class="ga" x="146.6" y="22.9" width="146.6" height="22.9"/><rect class="ta" x="293.2" y="22.9" width="73.3" height="22.9"/><rect class="ga" x="366.5" y="22.9" width="36.65" height="22.9"/><rect class="ta" x="403.15" y="22.9" width="36.65" height="22.9"/><rect class="ga" x="439.8" y="22.9" width="36.65" height="22.9"/><rect class="ta" x="476.45" y="22.9" width="73.3" height="22.9"/><rect class="ga" x="549.75" y="22.9" width="146.6" height="22.9"/>
<rect class="gb" x="146.6" y="45.8" width="73.3" height="22.9"/><rect class="tb" x="219.9" y="45.8" width="36.65" height="22.9"/><rect class="gb" x="256.55" y="45.8" width="73.3" height="22.9"/><rect class="tb" x="329.85" y="45.8" width="36.65" height="22.9"/><rect class="gb" x="366.5" y="45.8" width="36.65" height="22.9"/><rect class="tb" x="403.15" y="45.8" width="36.65" height="22.9"/><rect class="gb" x="439.8" y="45.8" width="36.65" height="22.9"/><rect class="tb" x="476.45" y="45.8" width="73.3" height="22.9"/><rect class="gb" x="549.75" y="45.8" width="146.6" height="22.9"/>
<rect class="y" x="0" y="68.7" width="293.2" height="22.9"/><rect class="y" x="549.75" y="68.7" width="293.2" height="22.9"/>
<rect class="hl" x="0" y="0" width="36.65" height="22.9"/><rect class="hl" x="36.65" y="0" width="36.65" height="22.9"/><rect class="hl" x="73.3" y="0" width="36.65" height="22.9"/><rect class="hl" x="109.95" y="0" width="36.65" height="22.9"/>
<rect class="hd2" x="146.6" y="0" width="36.65" height="22.9"/><rect class="hd2" x="183.25" y="0" width="36.65" height="22.9"/><rect class="hd2" x="219.9" y="0" width="36.65" height="22.9"/><rect class="hd2" x="256.55" y="0" width="36.65" height="22.9"/><rect class="hd2" x="293.2" y="0" width="36.65" height="22.9"/><rect class="hd2" x="329.85" y="0" width="36.65" height="22.9"/><rect class="hd2" x="366.5" y="0" width="36.65" height="22.9"/><rect class="hd2" x="403.15" y="0" width="36.65" height="22.9"/><rect class="hd2" x="439.8" y="0" width="36.65" height="22.9"/><rect class="hd2" x="476.45" y="0" width="36.65" height="22.9"/><rect class="hd2" x="513.1" y="0" width="36.65" height="22.9"/><rect class="hd2" x="549.75" y="0" width="36.65" height="22.9"/><rect class="hd2" x="586.4" y="0" width="36.65" height="22.9"/><rect class="hd2" x="623.05" y="0" width="36.65" height="22.9"/><rect class="hd2" x="659.7" y="0" width="36.65" height="22.9"/>
<rect class="hl" x="696.35" y="0" width="36.65" height="22.9"/><rect class="hl" x="733" y="0" width="36.65" height="22.9"/><rect class="hl" x="769.65" y="0" width="36.65" height="22.9"/><rect class="hl" x="806.3" y="0" width="36.65" height="22.9"/>
<text x="164.93" y="18.8">-3</text><text x="201.58" y="18.8">-2</text><text x="238.23" y="18.8">-1</text><text x="274.88" y="18.8">1</text><text x="311.53" y="18.8">2</text><text x="348.18" y="18.8">3</text><text x="384.83" y="18.8">4</text><text x="421.48" y="18.8">5</text><text x="458.13" y="18.8">6</text><text x="494.78" y="18.8">7</text><text x="531.43" y="18.8">8</text><text x="568.08" y="18.8">9</text><text x="604.73" y="18.8">+1</text><text x="641.38" y="18.8">+2</text><text x="678.03" y="18.8">+3</text>
<text x="164.93" y="41.8">GIIa</text><text x="201.58" y="41.8">GIIa</text><text x="238.23" y="41.8">GIIa</text><text x="274.88" y="41.8">GIIa</text><text x="311.53" y="41.8">TIIa</text><text x="348.18" y="41.8">TIIa</text><text x="384.83" y="41.8">GIIa</text><text x="421.48" y="41.8">TIIa</text><text x="458.13" y="41.8">GIIa</text><text x="494.78" y="41.8">TIIa</text><text x="531.43" y="41.8">TIIa</text><text x="568.08" y="41.8">GIIa</text><text x="604.73" y="41.8">GIIa</text><text x="641.38" y="41.8">GIIa</text><text x="678.03" y="41.8">GIIa</text>
<text x="164.93" y="64.7">GIIb</text><text x="201.58" y="64.7">GIIb</text><text x="238.23" y="64.7">TIIb</text><text x="274.88" y="64.7">GIIb</text><text x="311.53" y="64.7">GIIb</text><text x="348.18" y="64.7">TIIb</text><text x="384.83" y="64.7">GIIb</text><text x="421.48" y="64.7">TIIb</text><text x="458.13" y="64.7">GIIb</text><text x="494.78" y="64.7">TIIb</text><text x="531.43" y="64.7">TIIb</text><text x="568.08" y="64.7">GIIb</text><text x="604.73" y="64.7">GIIb</text><text x="641.38" y="64.7">GIIb</text><text x="678.03" y="64.7">GIIb</text>
<text x="18.33" y="87.6">C</text><text x="54.98" y="87.6">C</text><text x="91.63" y="87.6">C</text><text x="128.28" y="87.6">C</text><text x="164.93" y="87.6">C</text><text x="201.58" y="87.6">C</text><text x="238.23" y="87.6">C</text><text x="274.88" y="87.6">C</text><text x="568.08" y="87.6">C</text><text x="604.73" y="87.6">C</text><text x="641.38" y="87.6">C</text><text x="678.03" y="87.6">C</text><text x="714.68" y="87.6">C</text><text x="751.33" y="87.6">C</text><text x="787.98" y="87.6">C</text><text x="824.63" y="87.6">C</text>
<rect class="bd" x="0" y="0" width="842.95" height="91.6"/>
</g>

<!-- Vertical mutation box -->
<g id="mutation-box">
<rect x="487.55" y="32" width="36.65" height="763" fill="none" stroke="#000" stroke-width="2.5"/>
</g>

<!-- Labels -->
<g id="label-mhc1">
<rect class="lbl" x="28" y="302" width="121" height="36"/>
<text class="lbt" x="88.5" y="326">MHC class I</text>
</g>
<g id="label-mhc2">
<rect class="lbl" x="28" y="401" width="122" height="36"/>
<text class="lbt" x="89" y="425">MHC class II</text>
</g>

<!-- Dashed continuation lines -->
<g id="connectors" class="dash">
<path d="M893 79H1000"/>
<path d="M893 148H965"/>
<path d="M856 217H928"/>
<path d="M820 286H890"/>
<path d="M782 355H1190"/>
<path d="M1003 382H1190"/>
<path d="M85 355H156"/>
<path d="M85 382H156"/>
<path d="M1040 473.6H1115"/>
<path d="M1077 565.2H1155"/>
<path d="M1114 656.8H1190"/>
<path d="M1114 748.4H1230"/>
</g>

<g id="note-class1">
<text class="note" x="979" y="240" textLength="187" lengthAdjust="spacingAndGlyphs">Overlaps continue to 17</text>
<text class="note" x="979" y="264" textLength="184" lengthAdjust="spacingAndGlyphs">amino acids from index</text>
</g>
<g id="note-class2">
<text class="note" x="1149" y="504" textLength="187" lengthAdjust="spacingAndGlyphs">Overlaps continue to 23</text>
<text class="note" x="1149" y="527" textLength="184" lengthAdjust="spacingAndGlyphs">amino acids from index</text>
</g>

<!-- Caption -->
<g id="caption" class="cap">
<text class="b" x="26" y="855" textLength="591" lengthAdjust="spacingAndGlyphs">FIGURE 8 | Overlapping recognition frames indicate the impact of a</text>
<text class="b" x="26" y="880" textLength="241.6" lengthAdjust="spacingAndGlyphs">single amino acid mutation</text>
<text x="267.6" y="880" textLength="335.4" lengthAdjust="spacingAndGlyphs">. A single peptide is shown in the center,</text>
<text x="26" y="905" textLength="215.8" lengthAdjust="spacingAndGlyphs">from the same example as</text>
<text class="b" x="246.9" y="905" textLength="71.3" lengthAdjust="spacingAndGlyphs">Figure 6</text>
<text x="318.2" y="905" textLength="274.8" lengthAdjust="spacingAndGlyphs">. The TCEM, GEM, and cathepsin</text>
<text x="26" y="930" textLength="590" lengthAdjust="spacingAndGlyphs">cleavage site octomer recognition frames are shown for this and for the</text>
<text x="26" y="955" textLength="570" lengthAdjust="spacingAndGlyphs">overlapping peptides starting 1, 2, and 3 index positions downstream.</text>
<text x="24" y="981" textLength="596" lengthAdjust="spacingAndGlyphs">The vertical box shows how a single amino acid mutation at this position</text>
<text x="26" y="1006" textLength="505" lengthAdjust="spacingAndGlyphs">would impact many different recognition functions across the</text>
<text x="26" y="1031" textLength="599" lengthAdjust="spacingAndGlyphs">overlapping peptides. Only four iterations are shown; the overlap actually</text>
<text x="696" y="855" textLength="574" lengthAdjust="spacingAndGlyphs">extends 17 amino acids (class I) or 23 amino acids (class II), assuming</text>
<text x="696" y="880" textLength="585" lengthAdjust="spacingAndGlyphs">the default size of binding peptides of 9-mer and 15-mer. This pattern is</text>
<text x="696" y="905" textLength="558" lengthAdjust="spacingAndGlyphs">repeated for each index position in a protein (i.e., approximately 130</text>
<text x="696" y="930" textLength="580" lengthAdjust="spacingAndGlyphs">times for a variable region). GI, GIIa, and GIIb indicate amino acids that</text>
<text x="696" y="955" textLength="577" lengthAdjust="spacingAndGlyphs">are part of the GEM and contribute to binding; TI, TIIa, and TIIb indicate</text>
<text x="696" y="981" textLength="566" lengthAdjust="spacingAndGlyphs">the TCEM amino acids. C indicates an amino acid, which is part of the</text>
<text x="696" y="1006" textLength="600" lengthAdjust="spacingAndGlyphs">cathepsin cleavage site octomer. The peptide in this example was from gi</text>
<text x="696" y="1031" textLength="94" lengthAdjust="spacingAndGlyphs">122892104.</text>
</g>
</svg>
